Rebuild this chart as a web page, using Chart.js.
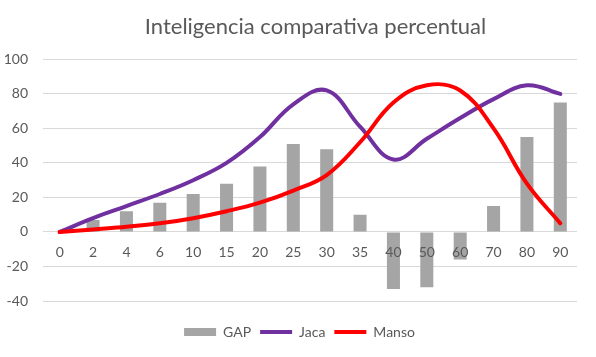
<!DOCTYPE html>
<html>
<head>
<meta charset="utf-8">
<script src="https://cdn.jsdelivr.net/npm/chart.js@4.4.1/dist/chart.umd.min.js"></script>
<style>
html,body{margin:0;padding:0;background:#fff;}
#wrap{width:596px;height:357px;position:relative;}
</style>
</head>
<body>
<div id="wrap"><canvas id="c" width="596" height="357"></canvas></div>
<script>
const categories = ['0','2','4','6','10','15','20','25','30','35','40','50','60','70','80','90'];
const gap   = [0, 7, 12, 17, 22, 28, 38, 51, 48, 10, -33, -32, -16, 15, 55, 75];
const jaca  = [0, 8, 15, 22, 30, 40, 55, 74, 82, 61, 42, 54, 66, 77, 85, 80];
const manso = [0, 1.5, 3, 5, 8, 12, 17, 24, 33, 52, 75, 85, 82, 60, 28, 5];
const yTicks = [100, 80, 60, 40, 20, 0, -20, -40];

const FONT = 'Lato, "Open Sans", sans-serif';
const TXT = '#595959';

const shiftBlocks = {
  id: 'shiftBlocks',
  afterLayout(chart) {
    if (chart.titleBlock) { chart.titleBlock.left += 27; chart.titleBlock.right += 27; }
    if (chart.legend) { chart.legend.left += 11; chart.legend.right += 11; }
  }
};

new Chart(document.getElementById('c'), {
  data: {
    labels: categories,
    datasets: [
      { type: 'bar', label: 'GAP', data: gap, backgroundColor: '#A5A5A5', borderWidth: 0,
        barPercentage: 0.39, categoryPercentage: 1, order: 3, pointStyle: 'rect' },
      { type: 'line', label: 'Jaca', data: jaca, borderColor: '#7030A0', backgroundColor: '#7030A0',
        borderWidth: 4, tension: 0.4, pointRadius: 0, fill: false, order: 2, pointStyle: 'line',
        borderCapStyle: 'round' },
      { type: 'line', label: 'Manso', data: manso, borderColor: '#FF0000', backgroundColor: '#FF0000',
        borderWidth: 4, tension: 0.4, pointRadius: 0, fill: false, order: 1, pointStyle: 'line',
        borderCapStyle: 'round' }
    ]
  },
  options: {
    responsive: false,
    animation: false,
    devicePixelRatio: 1,
    layout: { padding: { left: 0, right: 19, top: 0, bottom: 8 } },
    plugins: {
      title: { display: true, text: 'Inteligencia comparativa percentual', color: TXT,
        font: { family: FONT, size: 22, weight: 'normal' }, padding: { top: 14, bottom: 19 } },
      legend: { position: 'bottom',
        labels: { color: TXT, font: { family: FONT, size: 14 }, usePointStyle: true,
          pointStyleWidth: 32, boxWidth: 32, boxHeight: 8, padding: 9,
          sort: (a, b) => a.datasetIndex - b.datasetIndex } },
      tooltip: { enabled: false }
    },
    scales: {
      x: { position: { y: 0 },
        grid: { display: false, drawTicks: false }, border: { display: false },
        ticks: { z: 1, color: TXT, font: { family: FONT, size: 14 }, padding: 12, maxRotation: 0, autoSkip: false } },
      xPad: { type: 'category', position: 'bottom', display: true,
        afterFit(scale) { scale.height = 15; },
        grid: { display: false, drawTicks: false }, border: { display: false },
        ticks: { display: false } },
      y: { min: -40, max: 100,
        afterFit(scale) { scale.width = 43; },
        afterBuildTicks(scale) { scale.ticks = yTicks.map(v => ({ value: v })); },
        grid: { color: '#D9D9D9', lineWidth: 1, drawTicks: false }, border: { display: false },
        ticks: { color: TXT, font: { family: FONT, size: 14 }, padding: 15 } }
    }
  },
  plugins: [shiftBlocks]
});
</script>
</body>
</html>
